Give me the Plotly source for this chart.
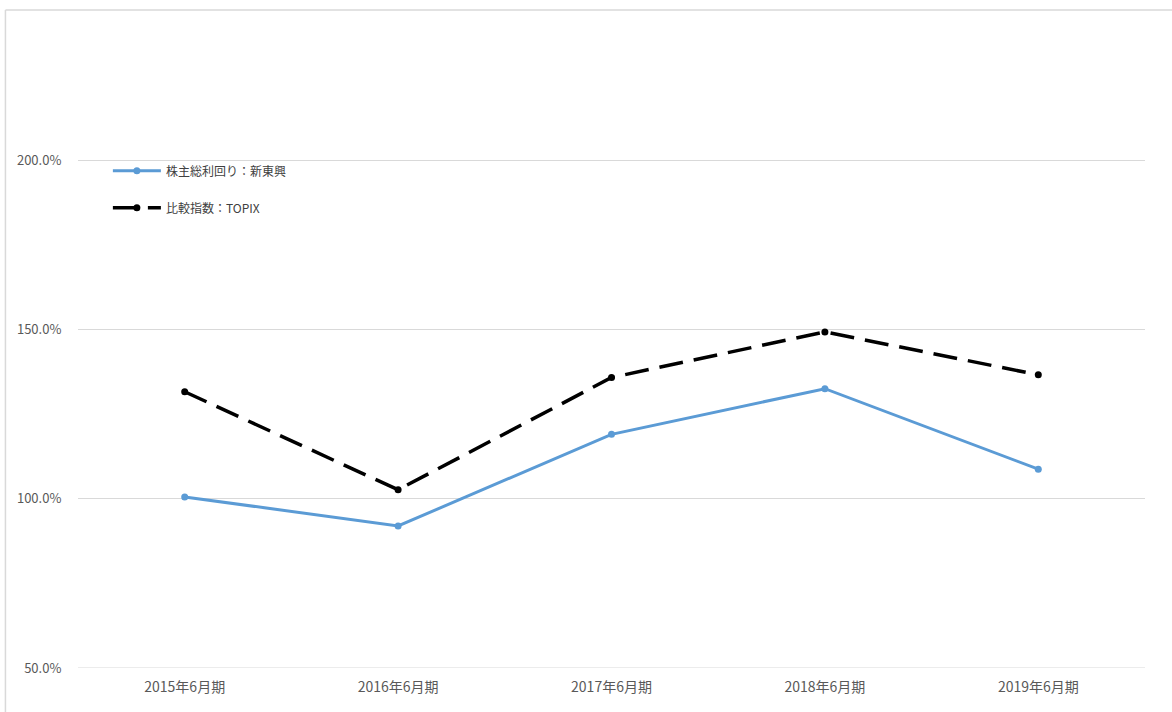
import plotly.graph_objects as go

categories = ["2015年6月期", "2016年6月期", "2017年6月期", "2018年6月期", "2019年6月期"]
tsr_company = [100.6, 92.0, 119.1, 132.6, 108.8]
tsr_topix = [131.7, 102.7, 135.9, 149.4, 136.7]
series_names = ["株主総利回り：新東興", "比較指数：TOPIX"]
y_ticks = [50, 100, 150, 200]
y_tick_labels = ["50.0%", "100.0%", "150.0%", "200.0%"]

FONT = "Noto Sans CJK JP, Noto Sans, sans-serif"

fig = go.Figure()
fig.add_trace(go.Scatter(
    x=categories, y=tsr_company, name=series_names[0], mode="lines+markers",
    line=dict(color="#5b9bd5", width=3), marker=dict(size=7, color="#5b9bd5"),
    legendgroup="a",
))
fig.add_trace(go.Scatter(
    x=categories, y=tsr_topix, name=series_names[1], mode="lines+markers",
    line=dict(color="#000000", width=3.5, dash="24px,11px"), marker=dict(size=7, color="#000000"),
    legendgroup="b",
))

fig.update_layout(
    width=1172, height=712,
    margin=dict(l=78, r=27, t=12, b=44),
    paper_bgcolor="white", plot_bgcolor="white",
    font=dict(family=FONT, color="#595959"),
    showlegend=True,
    legend=dict(
        x=0.028, y=0.78, xanchor="left", yanchor="top",
        bgcolor="rgba(0,0,0,0)", font=dict(size=12, color="#404040"),
        tracegroupgap=18, itemwidth=48,
    ),
    xaxis=dict(
        type="category", range=[-0.5, 4.5], showgrid=False, showline=False, zeroline=False,
        tickfont=dict(size=14, color="#595959"), ticks="outside", ticklen=6, tickcolor="rgba(0,0,0,0)",
    ),
    yaxis=dict(
        range=[50, 244], tickvals=y_ticks, ticktext=y_tick_labels,
        showgrid=True, gridcolor="#d9d9d9", gridwidth=1, zeroline=False, showline=False,
        tickfont=dict(size=13, color="#595959"), ticks="outside", ticklen=13, tickcolor="rgba(0,0,0,0)",
    ),
    shapes=[
        dict(type="line", xref="paper", yref="y", x0=0, x1=1, y0=50, y1=50,
             line=dict(color="#d9d9d9", width=1), layer="below"),
        dict(type="line", xref="paper", yref="paper", x0=-0.068, x1=1.03, y0=1.003, y1=1.003,
             line=dict(color="#d9d9d9", width=1.5)),
        dict(type="line", xref="paper", yref="paper", x0=-0.068, x1=-0.068, y0=1.003, y1=-0.1,
             line=dict(color="#d9d9d9", width=1.5)),
    ],
)

fig.write_html("out.html", config={"displayModeBar": False},
               post_script="document.body.style.margin='0';document.body.style.overflow='hidden';")
